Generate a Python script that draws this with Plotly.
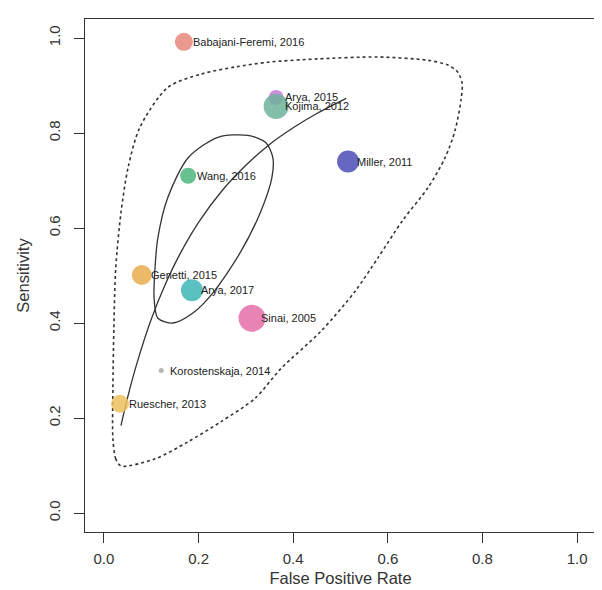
import plotly.graph_objects as go

# ---- study data ----
studies = ["Babajani-Feremi, 2016", "Arya, 2015", "Kojima, 2012", "Miller, 2011",
           "Wang, 2016", "Genetti, 2015", "Arya, 2017", "Sinai, 2005",
           "Korostenskaja, 2014", "Ruescher, 2013"]
fpr = [0.169, 0.364, 0.364, 0.516, 0.178, 0.080, 0.186, 0.313, 0.121, 0.034]
sens = [0.992, 0.875, 0.856, 0.740, 0.710, 0.501, 0.469, 0.410, 0.300, 0.230]
weight = [18, 15, 25, 22, 16, 20, 22, 27, 5, 18]
colors = ["#E8877A", "#C27BD6", "#6DB39A", "#4A4CB5", "#4DB67E",
          "#E6AE4E", "#3DB5B5", "#E36FA8", "#A8A8A8", "#EDC05E"]

# summary estimate
summary_fpr = [0.203]
summary_sens = [0.617]

# SROC curve
sroc_fpr = [0.036, 0.05, 0.07, 0.10, 0.13, 0.16, 0.20, 0.25, 0.30, 0.35, 0.40, 0.45, 0.512]
sroc_sens = [0.184, 0.243, 0.316, 0.408, 0.482, 0.544, 0.612, 0.679, 0.732, 0.776, 0.811, 0.841, 0.873]

# confidence region
conf_fpr = [0.304, 0.342, 0.357, 0.355, 0.332, 0.288, 0.230, 0.188, 0.146, 0.114,
            0.106, 0.108, 0.114, 0.135, 0.178, 0.241, 0.304]
conf_sens = [0.795, 0.780, 0.748, 0.706, 0.636, 0.548, 0.463, 0.421, 0.400, 0.410,
             0.452, 0.516, 0.579, 0.664, 0.748, 0.791, 0.795]

# prediction region
pred_fpr = [0.036, 0.025, 0.019, 0.019, 0.021, 0.025, 0.036, 0.051, 0.076, 0.135,
            0.205, 0.277, 0.347, 0.452, 0.579, 0.685, 0.727, 0.748, 0.757, 0.755,
            0.742, 0.721, 0.685, 0.632, 0.579, 0.531, 0.459, 0.374, 0.319, 0.247,
            0.178, 0.108, 0.036]
pred_sens = [0.099, 0.114, 0.156, 0.262, 0.389, 0.516, 0.632, 0.727, 0.812, 0.896,
             0.924, 0.939, 0.949, 0.956, 0.960, 0.953, 0.943, 0.928, 0.905, 0.871,
             0.805, 0.748, 0.685, 0.617, 0.537, 0.467, 0.383, 0.304, 0.241, 0.192,
             0.150, 0.114, 0.099]

tick_vals = [0.0, 0.2, 0.4, 0.6, 0.8, 1.0]
tick_text = ["0.0", "0.2", "0.4", "0.6", "0.8", "1.0"]

FONT = "Liberation Sans, Arial, sans-serif"

fig = go.Figure()

fig.add_trace(go.Scatter(x=pred_fpr, y=pred_sens, mode="lines",
                         line=dict(color="#333333", width=1.6, dash="dot", shape="spline", smoothing=0.8),
                         hoverinfo="skip", showlegend=False))
fig.add_trace(go.Scatter(x=conf_fpr, y=conf_sens, mode="lines",
                         line=dict(color="#333333", width=1.3, shape="spline", smoothing=0.8),
                         hoverinfo="skip", showlegend=False))
fig.add_trace(go.Scatter(x=sroc_fpr, y=sroc_sens, mode="lines",
                         line=dict(color="#333333", width=1.3, shape="spline"),
                         hoverinfo="skip", showlegend=False))

for name, fx, sy, w, c in zip(studies, fpr, sens, weight, colors):
    fig.add_trace(go.Scatter(x=[fx], y=[sy], mode="markers",
                             marker=dict(size=w, color=c, opacity=0.85, line=dict(width=0)),
                             name=name, showlegend=False))

fig.add_trace(go.Scatter(x=summary_fpr, y=summary_sens, mode="markers",
                         marker=dict(size=14, color="rgba(0,0,0,0)", symbol="circle-open",
                                     line=dict(color="#333333", width=1.3)),
                         showlegend=False))

for name, fx, sy in zip(studies, fpr, sens):
    fig.add_annotation(x=fx, y=sy, xref="x", yref="y", text=name, showarrow=False,
                       xanchor="left", yanchor="middle", xshift=7,
                       font=dict(family=FONT, size=11, color="#222222"))

axis_common = dict(range=[-0.04, 1.04], tickvals=tick_vals, ticktext=tick_text,
                   showgrid=False, zeroline=False, showline=True, mirror=True,
                   linecolor="#333333", linewidth=1.3, ticks="outside", ticklen=10,
                   tickwidth=1.3, tickcolor="#333333",
                   tickfont=dict(family=FONT, size=15, color="#333333"))

fig.update_layout(
    width=602, height=590,
    margin=dict(l=77, r=14, t=11, b=66),
    paper_bgcolor="white", plot_bgcolor="white",
    xaxis=dict(**axis_common, ticklabelstandoff=3,
               title=dict(text="False Positive Rate", standoff=6,
                          font=dict(family=FONT, size=16.5, color="#333333"))),
    yaxis=dict(**axis_common, tickangle=-90, ticklabelstandoff=8,
               title=dict(text="Sensitivity", standoff=12,
                          font=dict(family=FONT, size=16.5, color="#333333"))),
)

fig.write_html("out.html")
